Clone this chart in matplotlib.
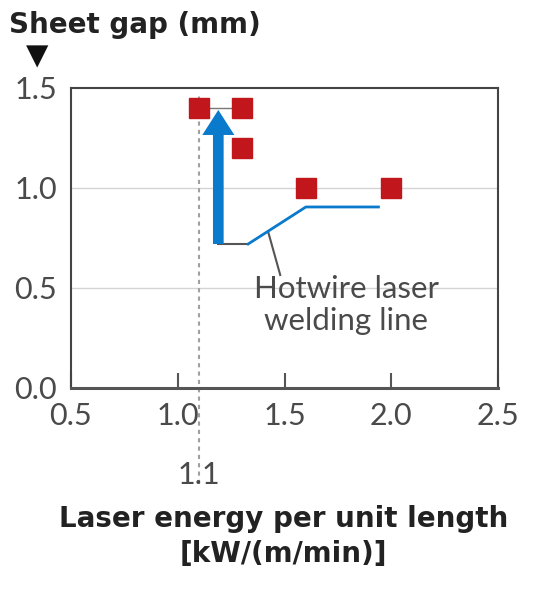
import numpy as np
import matplotlib.pyplot as plt
from matplotlib.patches import FancyArrow

# measured points (laser energy vs sheet gap)
energy = [1.1, 1.3, 1.3, 1.6, 2.0]
gap = [1.4, 1.4, 1.2, 1.0, 1.0]

# hotwire laser welding line
weld_x = [1.33, 1.60, 1.94]
weld_y = [0.72, 0.905, 0.905]

x_ticks = [0.5, 1.0, 1.5, 2.0, 2.5]
y_ticks = [0.0, 0.5, 1.0, 1.5]
threshold = 1.1

txt = "#4a4a4a"
red = "#c0161c"
blue = "#0a7acc"

plt.rcParams['font.family'] = ['Lato', 'DejaVu Sans']

fig = plt.figure(figsize=(5.52, 5.90), dpi=100)
ax = fig.add_axes([0.1286, 0.3424, 0.7736, 0.5085])

ax.set_xlim(0.5, 2.5)
ax.set_ylim(0.0, 1.5)

# light grid lines
for g in [0.5, 1.0]:
    ax.axhline(g, color="#d4d4d4", lw=1, zorder=0)

# dotted threshold line, runs down past the axis
ax.plot([threshold, threshold], [-0.48, 1.47], ls=(0, (2, 2)), color="#a0a0a0",
        lw=1.5, clip_on=False, zorder=1)
ax.text(threshold, -0.435, "1.1", ha="center", va="center", fontsize=22,
        color=txt, clip_on=False)

# connectors
ax.plot([energy[0], energy[1]], [gap[0], gap[1]], color="#777777", lw=1, zorder=2)
ax.plot([1.19, weld_x[0]], [weld_y[0], weld_y[0]], color="#555555", lw=1.5, zorder=2)
ax.plot([1.425, 1.48], [0.775, 0.565], color="#555555", lw=1.5, zorder=2)

ax.plot(weld_x, weld_y, color=blue, lw=2, zorder=3)

arrow = FancyArrow(1.19, 0.72, 0, 0.67, width=0.05, head_width=0.15,
                   head_length=0.125, length_includes_head=True,
                   color=blue, lw=0, zorder=3)
ax.add_patch(arrow)

ax.plot(energy, gap, ls="none", marker="s", ms=14.5, color=red, zorder=4)

ax.text(1.79, 0.415, "Hotwire laser\nwelding line", ha="center", va="center",
        fontsize=22.5, color=txt, linespacing=1.15)

ax.set_xticks(x_ticks)
ax.set_xticklabels([f"{v:.1f}" for v in x_ticks])
ax.set_yticks(y_ticks)
ax.set_yticklabels([f"{v:.1f}" for v in y_ticks])
ax.tick_params(axis="x", direction="in", length=11, width=1.5, color="#555555",
               labelsize=22, labelcolor=txt, pad=10)
ax.tick_params(axis="y", length=0, labelsize=22, labelcolor=txt, pad=10)

for s in ["top", "left", "right"]:
    ax.spines[s].set_color("#444444")
    ax.spines[s].set_linewidth(1.5)
ax.spines["bottom"].set_color("#555555")
ax.spines["bottom"].set_linewidth(2.2)

fig.text(0.245, 0.957, "Sheet gap (mm)", ha="center", va="center",
         fontsize=20, fontweight="bold", color="#222222", family="DejaVu Sans")
fig.text(0.067, 0.905, "\u25bc", ha="center", va="center", fontsize=21,
         color="#111111", family="DejaVu Sans")

fig.text(0.514, 0.0905, "Laser energy per unit length\n[kW/(m/min)]", ha="center",
         va="center", fontsize=20, fontweight="bold", color="#222222",
         linespacing=1.3, family="DejaVu Sans")

fig.savefig("out.png", dpi=100)
